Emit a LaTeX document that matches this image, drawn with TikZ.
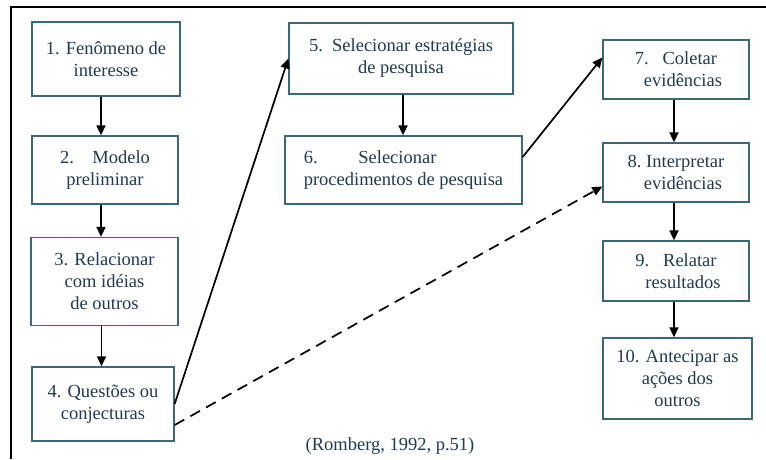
\documentclass[tikz,border=0pt]{standalone}
\usepackage{fontspec}
\setmainfont{Liberation Serif}
\usetikzlibrary{arrows.meta}
\definecolor{boxline}{HTML}{3A6878}
\definecolor{boxtext}{HTML}{1F3A55}

\begin{document}
\begin{tikzpicture}[x=1pt, y=-1pt,
  passo/.style={draw=boxline, line width=1.3pt, text=boxtext, align=center,
    inner sep=2pt, font=\fontsize{18.5}{22}\selectfont},
  seta/.style={line width=1.7pt, -{Triangle[length=10pt,width=9pt]}}]
\useasboundingbox (0,0) rectangle (766,459);
\draw[line width=2.2pt] (11,459) -- (11,7) -- (766,7);
\node[passo, minimum width=148pt, minimum height=74pt] (p1) at (106,59) {1. Fenômeno de\\interesse};
\node[passo, minimum width=146pt, minimum height=68pt] (p2) at (105,170) {2.\quad Modelo\\preliminar};
\node[passo, minimum width=147pt, minimum height=88pt] (p3) at (104.5,281.5) {3. Relacionar\\com idéias\\de outros};
\node[passo, minimum width=142pt, minimum height=74pt] (p4) at (103,404) {4. Questões ou\\conjecturas};
\node[passo, minimum width=224pt, minimum height=71pt] (p5) at (401,58.5) {5.\ \ Selecionar estratégias\\de pesquisa};
\node[passo, minimum width=237pt, minimum height=68pt, align=left] (p6) at (403.5,170) {6.\hspace{2.2em}Selecionar\\procedimentos de pesquisa};
\node[passo, minimum width=146pt, minimum height=59pt] (p7) at (676,69.5) {7.\ \ \ Coletar\\\ \ \ evidências};
\node[passo, minimum width=146pt, minimum height=59pt] (p8) at (676,172.5) {8.\ Interpretar\\\ \ \ evidências};
\node[passo, minimum width=146pt, minimum height=60pt] (p9) at (676,271) {9.\ \ \ Relatar\\\ \ \ resultados};
\node[passo, minimum width=149pt, minimum height=81pt] (p10) at (677.5,378.5) {10. Antecipar as\\ações dos\\outros};
\node[text=boxtext, font=\fontsize{18.5}{22}\selectfont] (fonte) at (390,446) {(Romberg, 1992, p.51)};
\draw[seta] ([xshift=-5pt]p1.south) -- ([xshift=-5pt]p1.south |- p2.north);
\draw[seta] ([xshift=-4pt]p2.south) -- ([xshift=-4pt]p2.south |- p3.north);
\draw[seta] ([xshift=-3pt]p3.south) -- ([xshift=-3pt]p3.south |- p4.north);
\draw[seta] ([xshift=2pt]p5.south) -- ([xshift=2pt]p5.south |- p6.north);
\draw[seta] ([xshift=-2pt]p7.south) -- ([xshift=-2pt]p7.south |- p8.north);
\draw[seta] ([xshift=-2pt]p8.south) -- ([xshift=-2pt]p8.south |- p9.north);
\draw[seta] ([xshift=-2pt]p9.south) -- ([xshift=-2pt]p9.south |- p10.north);
\draw[seta] (p4.east) -- (p5.west);
\draw[seta] ([yshift=13pt]p6.east) -- ([yshift=12pt]p7.west);
\draw[seta, dash pattern=on 11pt off 7pt] ([yshift=-21pt]p4.east) -- ([yshift=-14pt]p8.west);
\end{tikzpicture}
\end{document}
